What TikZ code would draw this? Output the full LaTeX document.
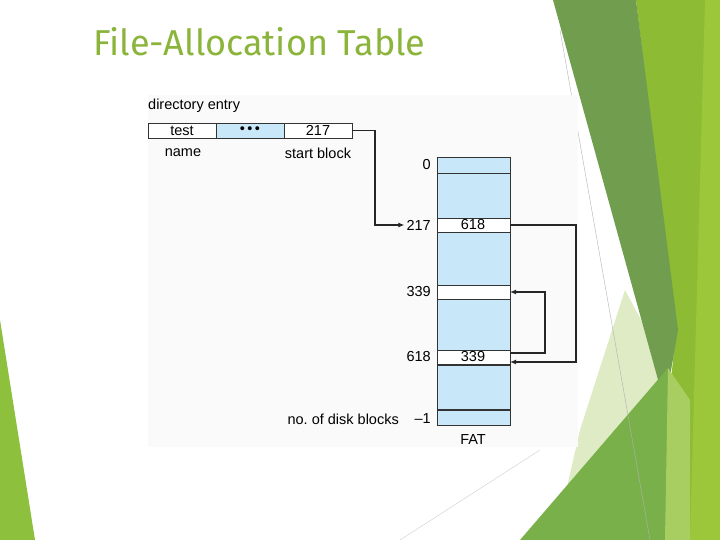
\documentclass[tikz,border=0pt]{standalone}
\usepackage{fontspec}
\usetikzlibrary{arrows.meta}
\setmainfont{Liberation Sans}
\newfontfamily\titlefont{Fira Sans}
\begin{document}
\begin{tikzpicture}[x=1pt,y=-1pt,
  lbl/.style={inner sep=0pt,font=\fontsize{14.5}{16}\selectfont},
  cell/.style={draw=black!80,line width=0.8pt},
  conn/.style={draw=black!85,line width=1.4pt},
  arr/.style={conn,-{Latex[length=6pt,width=5pt]}}]
\useasboundingbox (0,0) rectangle (720,540);
\fill[white] (0,0) rectangle (720,540);
% decorations
\fill[color={rgb,255:red,141;green,192;blue,60}] (0,320) -- (35,540) -- (0,540) -- cycle;
\fill[color={rgb,255:red,222;green,235;blue,196}] (555,540) -- (580,430) -- (625,290) -- (668,370) -- (600,540) -- cycle;
\fill[color={rgb,255:red,141;green,187;blue,51}] (636,0) -- (720,0) -- (720,540) -- (655,540) -- (676,330) -- cycle;
\fill[color={rgb,255:red,156;green,199;blue,58}] (705,0) -- (720,0) -- (720,540) -- (690,540) -- cycle;
\fill[color={rgb,255:red,112;green,158;blue,78}] (553,0) -- (636,0) -- (678,330) -- (665,405) -- cycle;
\fill[color={rgb,255:red,121;green,176;blue,74}] (520,540) -- (668,368) -- (690,540) -- cycle;
\fill[color={rgb,255:red,168;green,206;blue,98}] (668,368) -- (690,400) -- (690,540) -- (665,540) -- cycle;
\draw[gray!60,line width=0.4pt] (560,30) -- (650,540);
\draw[gray!40,line width=0.4pt] (400,540) -- (540,450);
% diagram background
\fill[color={rgb,255:red,250;green,250;blue,250}] (148,95) rectangle (578,447);
% title
\node[anchor=west,inner sep=0pt,text={rgb,255:red,139;green,180;blue,58},font=\titlefont\fontsize{36}{40}\selectfont] (title) at (93,42) {File-Allocation Table};
% directory entry
\node[lbl,anchor=west] (dirlbl) at (148,106) {directory entry};
\path[cell,fill=white] (148,123) rectangle (216,138);
\path[cell,fill={rgb,255:red,200;green,232;blue,250}] (216,123) rectangle (284,138);
\path[cell,fill=white] (284,123) rectangle (352,138);
\node[lbl] (test) at (182,130.5) {test};
\node[lbl] (dots) at (250,130.5) {\textbullet\,\textbullet\,\textbullet};
\node[lbl] (sb) at (318,130.5) {217};
\coordinate (sbr) at (352,130.5);
\node[lbl] (namel) at (183,153) {name};
\node[lbl] (startl) at (318,153) {start block};
% FAT
\path[cell,fill={rgb,255:red,200;green,232;blue,250}] (437,157) rectangle (510,425);
\draw[cell] (437,173) -- (510,173);
\path[cell,fill=white] (437,218) rectangle (510,232);
\path[cell,fill=white] (437,285) rectangle (510,299);
\path[cell,fill=white] (437,350) rectangle (510,365);
\draw[cell,line width=1.3pt] (437,365) -- (510,365);
\draw[cell,line width=1.3pt] (437,410) -- (510,410);
\node[lbl] (v618) at (473,225) {618};
\node[lbl] (v339) at (473,357) {339};
\node[lbl,anchor=east] (i0) at (431,165) {0};
\node[lbl,anchor=east] (i217) at (431,225) {217};
\node[lbl,anchor=east] (i339) at (431,292) {339};
\node[lbl,anchor=east] (i618) at (431,357) {618};
\node[lbl,anchor=east] (im1) at (431,419) {\textendash1};
\node[lbl,anchor=east] (ndb) at (399,419) {no.\ of disk blocks};
\node[lbl] (fat) at (473,440) {FAT};
\coordinate (r217) at (510,225);
\coordinate (r618a) at (510,353);
\coordinate (r618b) at (510,362);
\coordinate (r339) at (510,292);
% connectors
\draw[arr] (sbr) -- (375,130.5) -- (375,225) -- ([xshift=-2pt]i217.west);
\draw[arr] (r217) -- (576,225) -- (576,362) -- (r618b);
\draw[arr] (r618a) -- (545,353) -- (545,292) -- (r339);
\end{tikzpicture}
\end{document}
